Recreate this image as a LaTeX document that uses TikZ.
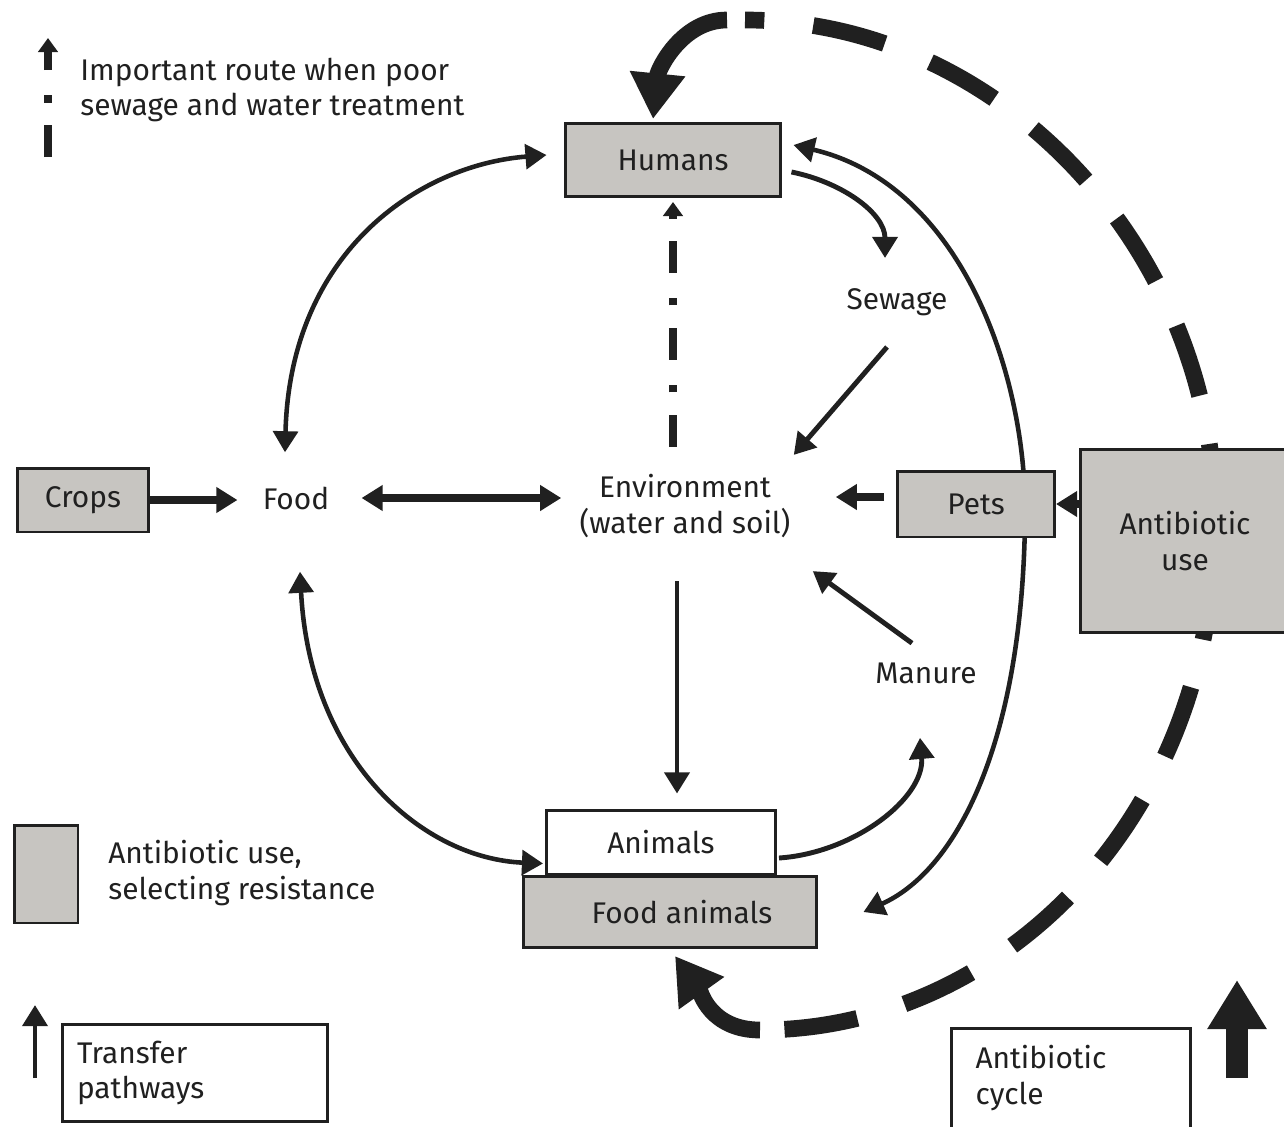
\documentclass[tikz,border=0pt]{standalone}
\usepackage{fontspec}
\setmainfont{Fira Sans}
\usetikzlibrary{arrows.meta,positioning,calc,backgrounds}
\definecolor{boxgray}{RGB}{199,197,193}
\definecolor{ink}{RGB}{32,32,32}

\begin{document}
\begin{tikzpicture}[x=0.02cm, y=-0.02cm, font=\fontsize{17}{20.4}\selectfont]
	%defines
	\tikzstyle{usebox} = [rectangle, draw=ink, fill=boxgray, line width=1.7pt, inner sep=0pt, align=center, text=ink]
	\tikzstyle{plainbox} = [rectangle, draw=ink, fill=white, line width=1.7pt, inner sep=0pt, align=center, text=ink]
	\tikzstyle{keybox} = [rectangle, draw=ink, fill=white, line width=1.7pt, align=left, text=ink]
	\tikzstyle{place} = [inner sep=0pt, align=center, text=ink]
	\tikzstyle{legendtext} = [inner sep=0pt, align=left, anchor=west, text=ink]
	\tikzstyle{arrow} = [line width=2.8pt, draw=ink, -{Triangle[length=12pt,width=14pt]}]
	\tikzstyle{biarrow} = [line width=2.6pt, draw=ink, {Triangle[length=12pt,width=14pt]}-{Triangle[length=12pt,width=14pt]}]
	\tikzstyle{heavyarrow} = [line width=4.5pt, draw=ink, -{Triangle[length=12pt,width=14pt]}]
	\tikzstyle{heavybiarrow} = [line width=4.5pt, draw=ink, {Triangle[length=12pt,width=14pt]}-{Triangle[length=12pt,width=14pt]}]
	\tikzstyle{poorroute} = [line width=4pt, draw=ink, dash pattern=on 18pt off 13pt on 4.5pt off 14pt, -{Triangle[length=8pt,width=11pt]}]
	\tikzstyle{cycleline} = [line width=9.5pt, draw=ink, dash pattern=on 42pt off 28pt, dash phase=31pt]
	\tikzstyle{cyclehead} = [line width=9.5pt, draw=ink, -{Triangle[length=26pt,width=30pt]}]
	\tikzstyle{cyclekey} = [line width=12pt, draw=ink, -{Triangle[length=28pt,width=32pt]}]
	\useasboundingbox (0,0) rectangle (1284,1126);
	%nodes
	\node (humans) [usebox, minimum width=4.32cm, minimum height=1.46cm] at (673,160) {Humans};
	\node (crops) [usebox, minimum width=2.64cm, minimum height=1.28cm] at (83,500) {Crops};
	\node (food) [place] at (296,498) {Food};
	\node (environment) [place] at (685,506) {Environment\\(water and soil)};
	\node (sewage) [place] at (897,302) {Sewage};
	\node (pets) [usebox, minimum width=3.14cm, minimum height=1.32cm] at (976,504) {Pets};
	\node (antibiotic) [usebox, minimum width=4.2cm, minimum height=3.66cm] at (1185,541) {Antibiotic\\use};
	\node (manure) [place] at (926,673) {Manure};
	\node (animals) [plainbox, minimum width=4.58cm, minimum height=1.28cm] at (661,842) {Animals};
	\node (foodanimals) [usebox, minimum width=5.88cm, minimum height=1.42cm] at (670,912) {\hspace*{0.48cm}Food animals};
	%legend
	\node (keyroute) [legendtext] at (80,90) {Important route when poor\\sewage and water treatment};
	\node (keyuse) [usebox, minimum width=1.28cm, minimum height=1.96cm] at (46,874) {};
	\node (keyusetext) [legendtext] at (108,873) {Antibiotic use,\\selecting resistance};
	\node (keytransfer) [keybox, inner xsep=0.3cm, text width=4.72cm, minimum height=1.94cm] at (195,1073) {Transfer\\pathways};
	\node (keycycle) [keybox, inner xsep=0.48cm, text width=3.82cm, minimum height=2cm] at (1071,1078) {Antibiotic\\cycle};
	\coordinate (keyroutebottom) at (48,157);
	\coordinate (keyroutetop) at (48,38);
	\coordinate (keytransferbottom) at (35,1078);
	\coordinate (keytransfertop) at (35,1005);
	\coordinate (keycyclebottom) at (1237,1078);
	\coordinate (keycycletop) at (1237,980);
	\coordinate (cycletop) at (745,20);
	\coordinate (cycleright) at (1215,520);
	\coordinate (cyclebottom) at (760,1030);
	\coordinate (loopright) at (1025,520);
	%chart
	\begin{scope}[on background layer]
	\draw [cycleline] (cycletop) .. controls (1000,20) and (1215,250) .. (cycleright) .. controls (1215,820) and (1000,1030) .. (cyclebottom);
	\draw [cyclehead] ($(cycletop)+(-18,0)$) .. controls +(-45,0) and +(5,-50) .. ($(humans.north)+(-20,-3)$);
	\draw [cyclehead] (cyclebottom) .. controls +(-50,0) and +(25,35) .. ($(foodanimals.south)+(5,7)$);
	\draw [heavyarrow] (crops.east) -- ($(crops.east -| food.west)+(-25,0)$);
	\draw [heavybiarrow] ($(food.east)+(32,0)$) -- ($(food.east -| environment.west)+(-18,0)$);
	\draw [biarrow] ($(food.north)+(-11,-34)$) .. controls +(5,-200) and +(-128,10) .. ($(humans.west)+(-17,-5)$);
	\draw [biarrow] ($(food.south)+(4,62)$) .. controls +(10,190) and +(-120,-5) .. ($(animals.south west)+(-2,-12)$);
	\draw [poorroute] ($(humans.south |- environment.north)+(0,-27)$) -- ($(humans.south)+(0,4)$);
	\draw [arrow] ($(environment.south)+(-8,43)$) -- ($(animals.north)+(16,-15)$);
	\draw [arrow] ($(humans.east)+(9,12)$) .. controls +(50,10) and +(0,-45) .. ($(sewage.north)+(-12,-30)$);
	\draw [arrow] ($(sewage.south)+(-10,31)$) -- ($(environment.north east)+(3,-19)$);
	\draw [heavyarrow] ($(pets.west)+(-12,-7)$) -- ($(environment.east)+(45,-9)$);
	\draw [heavyarrow] (antibiotic.west |- pets.east) -- (pets.east);
	\draw [arrow] ($(manure.north)+(-14,-19)$) -- ($(environment.south east)+(22,33)$);
	\draw [arrow] ($(animals.east)+(2,16)$) .. controls +(75,-5) and +(5,60) .. ($(manure.south)+(-6,54)$);
	\draw [biarrow] ($(humans.east)+(11,-15)$) .. controls +(170,40) and +(3,-140) .. (loopright) .. controls +(-3,230) and +(90,-40) .. ($(foodanimals.east)+(45,0)$);
	\end{scope}
	%legend arrows
	\draw [poorroute] (keyroutebottom) -- (keyroutetop);
	\draw [arrow] (keytransferbottom) -- (keytransfertop);
	\draw [cyclekey] (keycyclebottom) -- (keycycletop);
\end{tikzpicture}
\end{document}
